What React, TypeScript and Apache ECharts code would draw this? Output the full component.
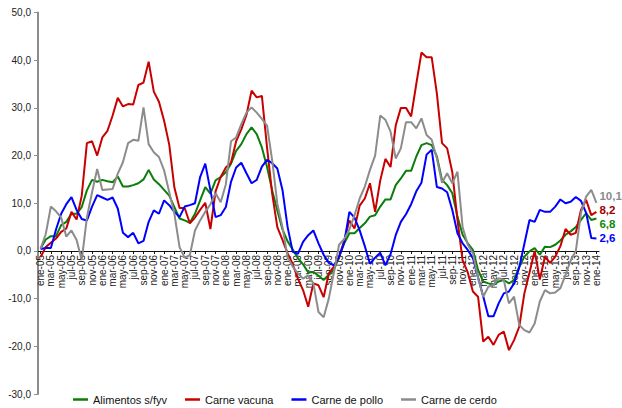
import React, { useEffect, useRef } from "react";
import * as echarts from "echarts";

const MONTHS = ["ene", "feb", "mar", "abr", "may", "jun", "jul", "ago", "sep", "oct", "nov", "dic"];
const YEARS = ["05", "06", "07", "08", "09", "10", "11", "12", "13", "14"];
const categories: string[] = YEARS.flatMap((y) => MONTHS.map((m) => `${m}-${y}`)).slice(0, 109);

const alimentos = [
  0.5, 2.4, 3.1, 3.1, 5.4, 6.1, 7.8, 7.8, 9.2, 12.7, 14.9, 14.5,
  14.9, 14.6, 14.4, 15.6, 13.5, 13.5, 13.8, 14.2, 15.0, 17.0, 15.0, 14.0,
  12.8, 11.6, 9.2, 6.8, 6.4, 5.9, 7.8, 10.6, 13.4, 12.0, 14.8, 15.5,
  16.5, 18.3, 21.0, 22.4, 24.5, 25.9, 24.5, 21.7, 17.6, 12.7, 8.5, 4.5,
  2.0, 0.3, -1.5, -2.8, -4.5, -4.4, -5.2, -6.1, -5.0, -4.0, -1.2, 1.6,
  3.7, 3.7, 4.8, 5.8, 7.2, 7.5, 9.3, 10.8, 10.8, 13.8, 15.2, 16.8,
  16.8, 19.8, 22.2, 22.6, 22.2, 19.8, 14.9, 13.8, 12.1, 7.2, 3.4, 1.6,
  0.2, -4.0, -6.4, -6.8, -7.1, -6.4, -6.1, -6.8, -6.1, -3.3, -1.2, -0.1,
  0.6, -0.8, 0.9, 0.8, 1.3, 2.2, 3.4, 4.1, 5.0, 6.5, 7.9, 6.5,
  6.8,
];

const vacuna = [
  -1.3, 0.8, 1.7, 2.6, 4.0, 4.7, 8.2, 6.6, 11.6, 22.6, 23.0, 20.0,
  23.8, 25.2, 28.4, 32.1, 30.3, 30.8, 30.7, 34.8, 35.3, 39.7, 33.4, 31.3,
  27.3, 22.3, 13.3, 9.0, 9.0, 5.8, 7.0, 8.6, 10.1, 4.6, 12.5, 15.5,
  17.5, 18.5, 23.0, 25.5, 28.5, 33.6, 32.2, 32.5, 21.7, 12.0, 5.0, 2.3,
  -0.5, -2.8, -5.8, -8.2, -11.7, -6.8, -7.2, -9.7, -4.7, -3.3, -1.3, 2.2,
  6.4, 4.7, 9.5, 11.0, 14.2, 8.2, 14.8, 19.3, 17.6, 26.3, 30.0, 30.0,
  28.2, 35.0, 41.6, 40.6, 40.6, 33.0, 22.6, 21.5, 16.5, 6.5, -2.0, -4.5,
  -8.5, -9.6, -19.0, -18.0, -19.7, -17.6, -16.9, -20.8, -18.7, -15.9, -8.9, -4.5,
  0.0, -6.0, -1.2, -2.5, -1.2, 1.0, 4.6, 3.4, 3.8, 8.6, 10.7, 7.5,
  8.2,
];

const pollo = [
  0.4, 0.6, 0.6, 4.5, 7.8, 9.8, 11.3, 8.6, 6.7, 6.4, 9.3, 11.7,
  11.2, 10.7, 11.2, 8.9, 3.8, 2.9, 3.8, 1.6, 2.1, 6.1, 8.5, 7.8,
  10.6, 9.6, 8.2, 7.1, 9.3, 9.6, 10.0, 15.5, 18.3, 12.7, 7.1, 7.5,
  9.2, 14.5, 17.5, 18.5, 16.3, 14.2, 14.9, 17.7, 19.1, 18.4, 17.3, 12.8,
  5.0, -0.2, -0.6, 1.9, 3.3, 4.3, 1.6, -0.8, -2.5, -3.0, -1.2, 1.8,
  8.2, 7.0, 4.3, 1.0, -2.7, -1.4, -0.4, -3.0, -0.7, 3.3, 6.1, 7.7,
  9.8, 12.5, 14.3, 20.2, 21.2, 13.4, 13.1, 12.3, 8.6, 3.7, 1.6, 0.2,
  -1.5, -5.5, -9.5, -13.7, -13.7, -11.0, -8.9, -8.5, -6.8, -3.5, 1.5, 6.5,
  6.1, 8.6, 8.2, 8.2, 9.3, 10.8, 10.0, 10.3, 11.3, 10.5, 8.0, 2.7,
  2.6,
];

const cerdo = [
  0.5, 3.5, 9.3, 8.3, 7.0, 3.0, 4.3, 2.3, -1.9, 7.0, 12.3, 17.2,
  12.8, 12.9, 13.0, 16.2, 18.6, 22.6, 23.3, 23.1, 30.1, 22.4, 20.7, 19.7,
  16.9, 12.3, 7.8, 0.8, -1.4, -0.9, 4.3, 6.4, 8.2, 9.8, 12.1, 10.2,
  14.0, 23.0, 23.8, 26.6, 29.0, 30.1, 29.0, 27.7, 26.3, 19.0, 9.9, 5.0,
  -1.3, -3.3, -4.7, -5.8, -5.1, -6.8, -12.8, -13.9, -10.0, -4.5, 1.3, 2.5,
  4.5, 7.5, 11.0, 13.5, 17.0, 20.0, 28.4, 27.5, 25.0, 19.4, 21.5, 27.0,
  27.0, 25.7, 27.8, 24.3, 23.3, 19.4, 14.3, 16.3, 14.2, 16.6, 5.0, 1.3,
  -0.5, -5.7, -9.6, -7.5, -7.1, -5.7, -6.1, -11.0, -9.6, -15.5, -16.6, -17.1,
  -15.2, -10.6, -8.2, -8.9, -8.7, -7.8, -5.0, -2.0, 0.0, 8.0, 11.4, 12.8,
  10.1,
];

const SERIES = [
  { name: "Alimentos s/fyv", data: alimentos, color: "#0b7d0b", labelColor: "#0b8a0b", dy: 5 },
  { name: "Carne vacuna", data: vacuna, color: "#c80000", labelColor: "#9e0000", dy: -2 },
  { name: "Carne de pollo", data: pollo, color: "#0000ff", labelColor: "#0000ff", dy: -1 },
  { name: "Carne de cerdo", data: cerdo, color: "#8c8c8c", labelColor: "#8c8c8c", dy: -7 },
];

const Y_MIN = -30;
const Y_MAX = 50;
const GRID_TOP = 12.5;
const GRID_BOTTOM = 14;
const CHART_H = 408;

const FONT = "'Liberation Sans', Arial, sans-serif";
const fmt = (v: number) => v.toFixed(1).replace(".", ",");

export default function App() {
  const ref = useRef<HTMLDivElement>(null);
  useEffect(() => {
    if (!ref.current) return;
    const chart = echarts.init(ref.current, undefined, { renderer: "svg" });
    const gridH = CHART_H - GRID_TOP - GRID_BOTTOM;
    const zeroOffset = -(gridH * (0 - Y_MIN)) / (Y_MAX - Y_MIN);
    chart.setOption({
      animation: false,
      backgroundColor: "#ffffff",
      textStyle: { fontFamily: FONT },
      grid: { left: 38, right: 23, top: GRID_TOP, bottom: GRID_BOTTOM, containLabel: false, outerBoundsMode: "none" },
      legend: {
        left: 68,
        top: 389,
        padding: 5,
        icon: "rect",
        itemWidth: 15,
        itemHeight: 2.5,
        itemGap: 18,
        textStyle: { fontSize: 11, color: "#111", fontFamily: FONT },
        data: SERIES.map((s) => s.name),
      },
      xAxis: {
        type: "category",
        data: categories,
        boundaryGap: true,
        position: "bottom",
        offset: zeroOffset,
        axisLine: { onZero: false, lineStyle: { color: "#111", width: 1 } },
        axisTick: { show: true, alignWithLabel: true, interval: 1, length: 3, lineStyle: { color: "#111" } },
        axisLabel: {
          interval: 1,
          rotate: 90,
          fontSize: 10,
          color: "#222",
          margin: 4,
          fontFamily: FONT,
        },
        splitLine: { show: false },
      },
      yAxis: {
        type: "value",
        min: Y_MIN,
        max: Y_MAX,
        interval: 10,
        axisLine: { show: true, lineStyle: { color: "#8c8c8c", width: 2 } },
        axisTick: { show: true, length: 4, lineStyle: { color: "#8c8c8c" } },
        axisLabel: { formatter: (v: number) => fmt(v), fontSize: 10, color: "#222", margin: 7, fontFamily: FONT },
        splitLine: { show: false },
      },
      series: SERIES.map((s) => ({
        name: s.name,
        type: "line",
        data: s.data,
        symbol: "none",
        color: s.color,
        lineStyle: { width: 2, color: s.color },
        endLabel: {
          show: true,
          formatter: (p: any) => fmt(Number(p.value)),
          color: s.labelColor,
          fontWeight: "bold",
          fontSize: 11.5,
          fontFamily: FONT,
          distance: 3,
          offset: [0, s.dy],
        },
      })),
    });
    return () => chart.dispose();
  }, []);
  return <div ref={ref} style={{ position: "fixed", left: 0, top: 0, width: 622, height: 408 }} />;
}
